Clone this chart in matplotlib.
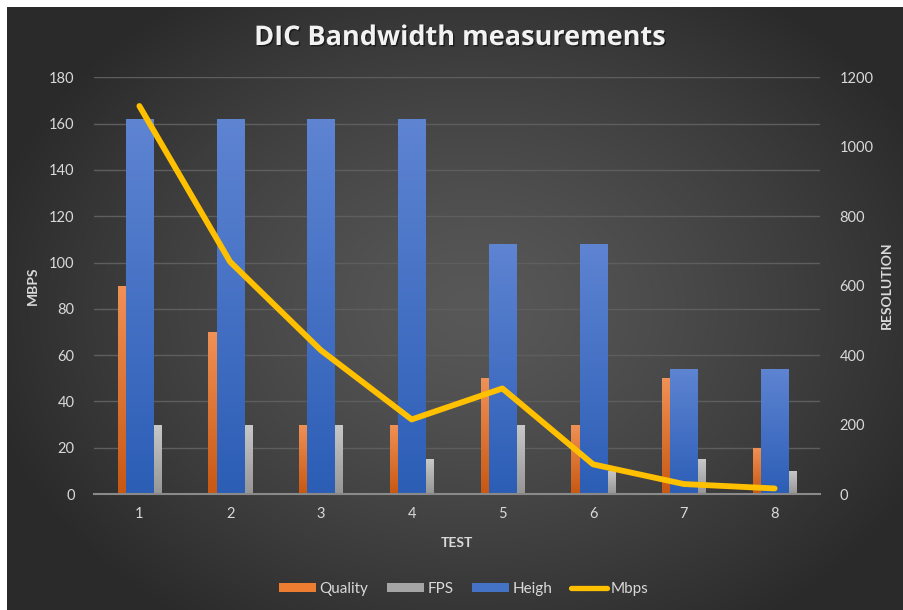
import numpy as np
import matplotlib
matplotlib.use("Agg")
import matplotlib.pyplot as plt
from matplotlib.lines import Line2D
from matplotlib.patches import Patch
import matplotlib.patheffects as pe

plt.rcParams['font.family'] = ['Lato', 'DejaVu Sans']

# ---- data ----
tests = [1, 2, 3, 4, 5, 6, 7, 8]
quality = [90, 70, 30, 30, 50, 30, 50, 20]
fps = [30, 30, 30, 15, 30, 10, 15, 10]
heigh = [1080, 1080, 1080, 1080, 720, 720, 360, 360]
mbps = [167.6, 100.3, 62.1, 32.2, 45.6, 12.8, 4.3, 2.4]

W, H = 904, 610
fig = plt.figure(figsize=(W / 100, H / 100), dpi=100, facecolor='white')

# background gradient panel (white margin at top/left)
bg = fig.add_axes([7 / W, 0, 1 - 7 / W, 1 - 7 / H], zorder=-10)
bg.set_axis_off()
yy, xx = np.mgrid[0:1:300j, 0:1:450j]
r = np.sqrt(((xx - 0.52) / 0.75) ** 2 + ((yy - 0.5) / 0.85) ** 2)
t = np.clip(r / 0.75, 0, 1) ** 1.3
c0 = np.array([0x58, 0x58, 0x58]) / 255
c1 = np.array([0x2a, 0x2a, 0x2a]) / 255
img = c0[None, None, :] * (1 - t[..., None]) + c1[None, None, :] * t[..., None]
bg.imshow(img, aspect='auto', extent=[0, 1, 0, 1], origin='upper')
bg.set_xlim(0, 1)
bg.set_ylim(0, 1)

pos = [94 / W, 1 - 494 / H, (820 - 94) / W, (494 - 77.3) / H]
ax = fig.add_axes(pos, zorder=1)
ax2 = fig.add_axes(pos, zorder=2, sharex=ax)
ax3 = fig.add_axes(pos, zorder=3, sharex=ax, sharey=ax)
for a in (ax, ax2, ax3):
    a.patch.set_visible(False)
    for s in a.spines.values():
        s.set_visible(False)

x = np.array(tests, dtype=float)
bw = 0.09
blue_w = 0.30


def grad_bars(a, bars, top, bottom):
    top = np.array(top) / 255
    bottom = np.array(bottom) / 255
    g = np.linspace(0, 1, 64)[:, None, None]
    im = top[None, None, :] * (1 - g) + bottom[None, None, :] * g
    for b in bars:
        bx, by = b.get_x(), b.get_y()
        bwid, bh = b.get_width(), b.get_height()
        b.set_facecolor('none')
        i = a.imshow(im, aspect='auto', extent=[bx, bx + bwid, by, by + bh],
                     origin='upper', zorder=b.get_zorder(), interpolation='bilinear')
        i.set_clip_path(b)


q_bars = ax.bar(x - blue_w / 2 - bw / 2, quality, width=bw, color='#ed7d31', zorder=2, linewidth=0)
f_bars = ax.bar(x + blue_w / 2 + bw / 2, fps, width=bw, color='#a5a5a5', zorder=2, linewidth=0)
h_bars = ax2.bar(x, heigh, width=blue_w, color='#4472c4', zorder=2, linewidth=0)
ax3.plot(x, mbps, color='#ffc000', lw=4.2, solid_capstyle='round', solid_joinstyle='round', zorder=5)

ax.set_xlim(0.5, 8.5)
ax.set_ylim(0, 180)
ax2.set_ylim(0, 1200)

grad_bars(ax, q_bars, (240, 145, 85), (200, 88, 18))
grad_bars(ax, f_bars, (200, 200, 200), (150, 150, 150))
grad_bars(ax2, h_bars, (94, 132, 210), (44, 94, 182))

ax.set_xlim(0.5, 8.5)
ax.set_ylim(0, 180)
ax2.set_ylim(0, 1200)

tc = '#d9d9d9'
ax.set_yticks(np.arange(0, 181, 20))
ax.grid(axis='y', color='#5e5e5e', lw=1.0, zorder=0)
ax.set_axisbelow(True)
ax.tick_params(axis='y', length=0, pad=14, labelsize=10.5, labelcolor=tc)
ax.set_xticks(tests)
ax.set_xticklabels([str(v) for v in tests])
ax.tick_params(axis='x', length=0, pad=9, labelsize=10.5, labelcolor=tc)

ax2.yaxis.tick_right()
ax2.yaxis.set_label_position('right')
ax2.set_yticks(np.arange(0, 1201, 200))
ax2.tick_params(axis='y', length=0, pad=14, labelsize=10.5, labelcolor=tc)
ax2.tick_params(axis='x', length=0, labelbottom=False)
ax2.spines['bottom'].set_visible(True)
ax2.spines['bottom'].set_color('#8a8a8a')
ax2.spines['bottom'].set_linewidth(1.5)
ax3.set_axis_off()

ax.set_ylabel('MBPS', color=tc, fontsize=10, fontweight='bold', labelpad=7)
ax2.set_ylabel('RESOLUTION', color=tc, fontsize=10, fontweight='bold', labelpad=5)
ax.set_xlabel('TEST', color=tc, fontsize=10, fontweight='bold', labelpad=12)

fig.text(460 / W, 1 - 38 / H, 'DIC Bandwidth measurements', ha='center', va='center',
         fontsize=19.5, fontweight='bold', color='#f2f2f2', family=['Open Sans', 'DejaVu Sans'],
         path_effects=[pe.withSimplePatchShadow(offset=(1, -1), shadow_rgbFace='black', alpha=0.5)])

handles = [Patch(facecolor='#ed7d31', label='Quality'),
           Patch(facecolor='#a5a5a5', label='FPS'),
           Patch(facecolor='#4472c4', label='Heigh'),
           Line2D([0], [0], color='#ffc000', lw=3.8, solid_capstyle='round', label='Mbps')]
leg = fig.legend(handles=handles, loc='center', bbox_to_anchor=(464 / W, 1 - 589 / H), ncol=4,
                 frameon=False, fontsize=11, handlelength=2.4, handleheight=0.5,
                 handletextpad=0.25, columnspacing=1.2)
for txt in leg.get_texts():
    txt.set_color(tc)

fig.savefig('out.png', dpi=100, facecolor=fig.get_facecolor())
